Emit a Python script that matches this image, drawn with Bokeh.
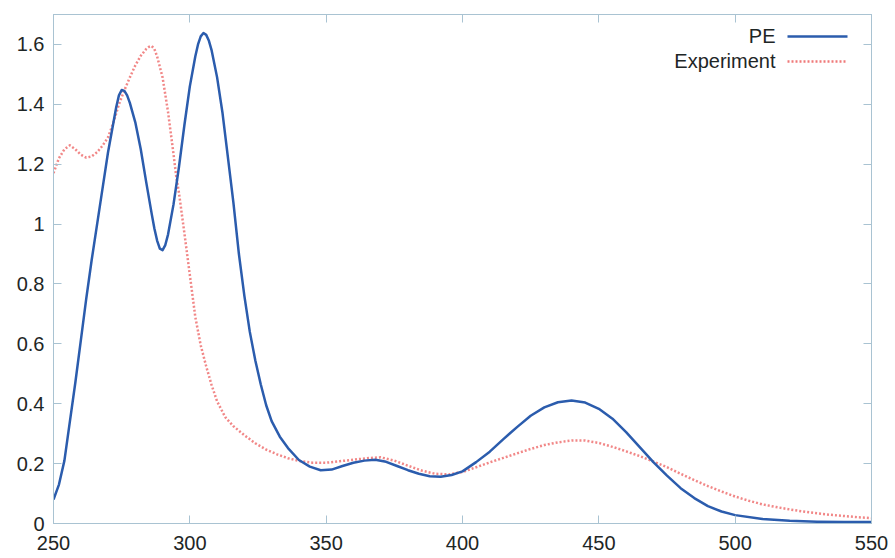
from bokeh.plotting import figure
from bokeh.models import (Range1d, LinearAxis, FixedTicker, NumeralTickFormatter,
                          Label, Arrow)
from bokeh.embed import file_html
from bokeh.resources import INLINE

# ---- data ----
pe_x = [250, 252, 254, 256, 258, 260, 262, 264, 266, 268, 270, 272, 273, 274, 275, 276, 277,
        278, 280, 282, 284, 286, 287, 288, 289, 290, 291, 292, 294, 296, 298, 300, 302, 303, 304,
        305, 306, 307, 308, 310, 312, 314, 316, 318, 320, 322, 324, 326, 328, 330, 333,
        336, 340, 344, 348, 352, 356, 360, 364, 368, 372, 376, 380, 384, 388, 392,
        396, 400, 405, 410, 415, 420, 425, 430, 435, 440, 445, 450, 455, 460, 465,
        470, 475, 480, 485, 490, 495, 500, 510, 520, 530, 540, 550]
pe_y = [0.08, 0.13, 0.21, 0.34, 0.47, 0.61, 0.75, 0.88, 1.00, 1.12, 1.24, 1.34, 1.39, 1.43, 1.448, 1.445, 1.43,
        1.405, 1.34, 1.25, 1.14, 1.035, 0.985, 0.945, 0.918, 0.913, 0.93, 0.965, 1.065, 1.19, 1.33, 1.46, 1.56, 1.6, 1.627,
        1.638, 1.632, 1.612, 1.58, 1.49, 1.37, 1.22, 1.07, 0.9, 0.76, 0.64, 0.545, 0.465, 0.395, 0.342, 0.29,
        0.252, 0.212, 0.19, 0.178, 0.18, 0.192, 0.203, 0.21, 0.213, 0.206, 0.192, 0.178, 0.166, 0.158, 0.156,
        0.162, 0.174, 0.205, 0.24, 0.282, 0.322, 0.36, 0.388, 0.405, 0.411, 0.404, 0.383, 0.35, 0.305, 0.255,
        0.205, 0.16, 0.118, 0.085, 0.058, 0.04, 0.028, 0.015, 0.009, 0.006, 0.005, 0.005]

exp_x = [250, 252, 254, 256, 258, 260, 262, 264, 266, 268, 270, 272, 274, 276, 278,
         280, 282, 284, 285, 286, 287, 288, 290, 292, 294, 295, 296, 298, 300, 302, 304, 306,
         308, 310, 313, 316, 320, 324, 328, 332, 336, 340, 345, 350, 355, 360, 365,
         370, 375, 380, 385, 390, 395, 400, 405, 410, 415, 420, 425, 430, 435, 440,
         445, 450, 455, 460, 465, 470, 475, 480, 485, 490, 495, 500, 505, 510, 515,
         520, 525, 530, 535, 540, 545, 550]
exp_y = [1.17, 1.22, 1.25, 1.263, 1.25, 1.232, 1.222, 1.226, 1.24, 1.262, 1.29, 1.34, 1.40, 1.447, 1.49,
         1.53, 1.562, 1.585, 1.592, 1.595, 1.585, 1.56, 1.49, 1.375, 1.235, 1.16, 1.105, 0.97, 0.83, 0.69, 0.595, 0.525,
         0.462, 0.408, 0.355, 0.325, 0.295, 0.268, 0.247, 0.231, 0.218, 0.209, 0.203, 0.203, 0.208, 0.213, 0.218,
         0.221, 0.21, 0.193, 0.177, 0.166, 0.164, 0.172, 0.188, 0.204, 0.219, 0.234, 0.249, 0.262, 0.271, 0.277,
         0.277, 0.269, 0.256, 0.241, 0.225, 0.207, 0.188, 0.166, 0.145, 0.125, 0.107, 0.09, 0.076, 0.064, 0.055,
         0.047, 0.04, 0.034, 0.029, 0.025, 0.021, 0.018]

x_ticks = [250, 300, 350, 400, 450, 500, 550]
y_ticks = [0, 0.2, 0.4, 0.6, 0.8, 1.0, 1.2, 1.4, 1.6]
series_names = ["PE", "Experiment"]

# ---- styling ----
FONT = "Liberation Sans"
TXT = "#1e2626"
BOX = "#a9c3d2"
BLUE = "#2b5cad"
RED = "#ef7a7a"
DOT = "2 2"

p = figure(width=888, height=558, output_backend="svg", toolbar_location=None,
           x_range=Range1d(250, 550), y_range=Range1d(0, 1.7),
           x_axis_location=None, y_axis_location=None,
           min_border_left=53, min_border_right=17, min_border_top=14, min_border_bottom=35)
p.background_fill_color = "white"
p.border_fill_color = "white"
p.outline_line_color = BOX
p.outline_line_width = 1
p.xgrid.visible = False
p.ygrid.visible = False


def style_axis(ax, labels=True, standoff=9):
    ax.axis_line_color = BOX
    ax.major_tick_line_color = BOX
    ax.major_tick_in = 8
    ax.major_tick_out = 0
    ax.minor_tick_line_color = None
    if labels:
        ax.major_label_text_font = FONT
        ax.major_label_text_font_size = "20px"
        ax.major_label_text_color = TXT
        ax.major_label_standoff = standoff
    else:
        ax.major_label_text_color = None
        ax.major_label_text_font_size = "0px"
        ax.major_label_standoff = 0


xb = LinearAxis(ticker=FixedTicker(ticks=x_ticks))
style_axis(xb, standoff=12)
yl = LinearAxis(ticker=FixedTicker(ticks=y_ticks), formatter=NumeralTickFormatter(format="0.[0]"))
style_axis(yl)
xt = LinearAxis(ticker=FixedTicker(ticks=x_ticks))
style_axis(xt, labels=False)
yr = LinearAxis(ticker=FixedTicker(ticks=y_ticks))
style_axis(yr, labels=False)
p.add_layout(xb, "below")
p.add_layout(yl, "left")
p.add_layout(xt, "above")
p.add_layout(yr, "right")

p.line(exp_x, exp_y, line_color=RED, line_width=2.5, line_dash=DOT, line_alpha=0.9,
       line_join="round")
p.line(pe_x, pe_y, line_color=BLUE, line_width=2.5, line_join="round")

# ---- legend (text right-aligned, sample on the right, as in the reference) ----
legend_rows = [(series_names[0], BLUE, "solid", 488, 487),
               (series_names[1], RED, DOT, 463, 462)]
for name, col, dash, ty, ly in legend_rows:
    p.add_layout(Label(x=722, y=ty, x_units="screen", y_units="screen", text=name,
                       text_align="right", text_baseline="middle", text_font=FONT,
                       text_font_size="20px", text_color=TXT))
    p.add_layout(Arrow(end=None, x_start=734, y_start=ly, x_end=794, y_end=ly,
                       start_units="screen", end_units="screen",
                       line_color=col, line_width=2.5, line_dash=dash))

open("out.html", "w").write(file_html(p, INLINE))
